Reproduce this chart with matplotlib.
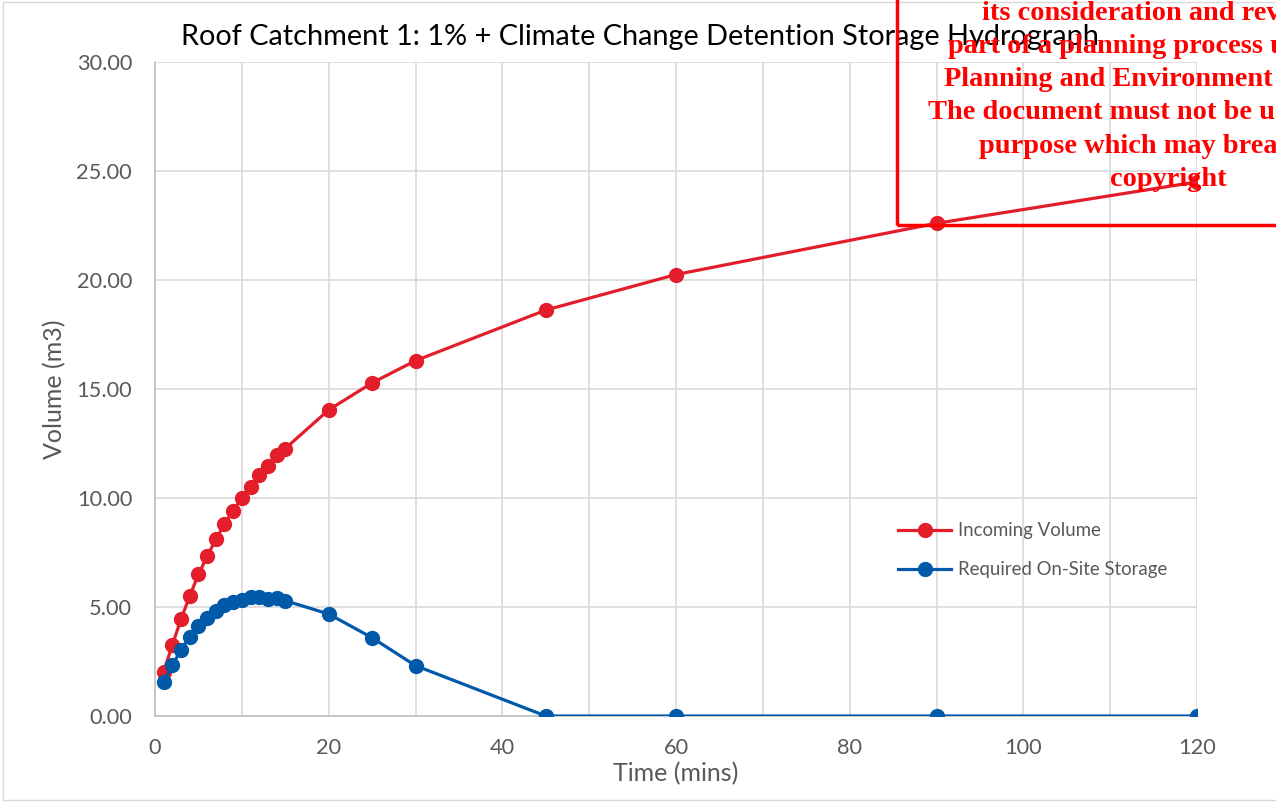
import matplotlib
matplotlib.use("Agg")
import matplotlib.pyplot as plt
from matplotlib.patches import Rectangle
from matplotlib.ticker import MultipleLocator, FormatStrFormatter

# data
time_mins = [1, 2, 3, 4, 5, 6, 7, 8, 9, 10, 11, 12, 13, 14, 15, 20, 25, 30, 45, 60, 90, 120]
incoming = [2.04, 3.26, 4.45, 5.50, 6.50, 7.32, 8.10, 8.81, 9.42, 9.99, 10.52, 11.06, 11.47,
            11.96, 12.27, 14.04, 15.28, 16.30, 18.62, 20.25, 22.60, 24.50]
storage = [1.58, 2.32, 3.04, 3.64, 4.13, 4.50, 4.83, 5.09, 5.24, 5.33, 5.44, 5.47, 5.38,
           5.40, 5.29, 4.68, 3.59, 2.31, 0.0, 0.0, 0.0, 0.0]

watermark = ["its consideration and review as",
             "part of a planning process under the",
             "Planning and Environment Act 1987.",
             "The document must not be used for any",
             "purpose which may breach any",
             "copyright"]

red = "#E31E2A"
blue = "#0059A9"
grey_txt = "#595959"

plt.rcParams['font.family'] = ['Lato', 'DejaVu Sans']

W, H = 1276, 802
fig = plt.figure(figsize=(W / 100, H / 100), dpi=100)
ax = fig.add_axes([155 / W, 1 - 716 / H, (1197 - 155) / W, (716 - 62) / H])

ax.plot(time_mins, incoming, color=red, lw=2.3, marker='o', ms=10, label="Incoming Volume", zorder=3)
ax.plot(time_mins, storage, color=blue, lw=2.3, marker='o', ms=10, label="Required On-Site Storage", zorder=3)

ax.set_xlim(0, 120)
ax.set_ylim(0, 30)
ax.xaxis.set_major_locator(MultipleLocator(20))
ax.xaxis.set_minor_locator(MultipleLocator(10))
ax.yaxis.set_major_locator(MultipleLocator(5))
ax.yaxis.set_major_formatter(FormatStrFormatter('%.2f'))
ax.grid(True, which='both', axis='x', color='#D9D9D9', lw=1.2)
ax.grid(True, which='major', axis='y', color='#D9D9D9', lw=1.2)
ax.set_axisbelow(True)
for s in ['top', 'right']:
    ax.spines[s].set_visible(False)
for s in ['left', 'bottom']:
    ax.spines[s].set_color('#BFBFBF')
    ax.spines[s].set_linewidth(1.2)
ax.tick_params(which='both', length=0, labelsize=15.7, labelcolor=grey_txt)
ax.tick_params(axis='y', pad=16.5)
ax.tick_params(axis='x', pad=16)

fig.text(640 / W, 1 - 37 / H, "Roof Catchment 1: 1% + Climate Change Detention Storage Hydrograph",
         ha='center', va='center', fontsize=20.8, color='#000000')
ax.set_xlabel("Time (mins)", fontsize=18, color=grey_txt, labelpad=3)
ax.set_ylabel("Volume (m3)", fontsize=18, color=grey_txt, labelpad=7)

ax.legend(loc='upper left', bbox_to_anchor=(0.697, 0.322), frameon=False, fontsize=13.4,
          handlelength=2.85, handletextpad=0.35, labelspacing=1.2, labelcolor=grey_txt)

# outer chart border
fig.patches.append(Rectangle((3 / W, 0.002), 1.2, 0.996, transform=fig.transFigure,
                             fill=False, ec='#D9D9D9', lw=1))

# watermark box and text (clipped by the page edge)
fig.patches.append(Rectangle((897 / W, 1 - 225 / H), 1.0, 1.0, transform=fig.transFigure,
                             fill=False, ec='#FF0000', lw=2.5, zorder=10))
for i, line in enumerate(watermark):
    fig.text(1168 / W, 1 - (13 + 33.3 * i) / H, line, ha='center', va='center',
             family='Liberation Serif', weight='bold', fontsize=20.4, color='#FF0000', zorder=11)

fig.savefig("out.png", dpi=100)
